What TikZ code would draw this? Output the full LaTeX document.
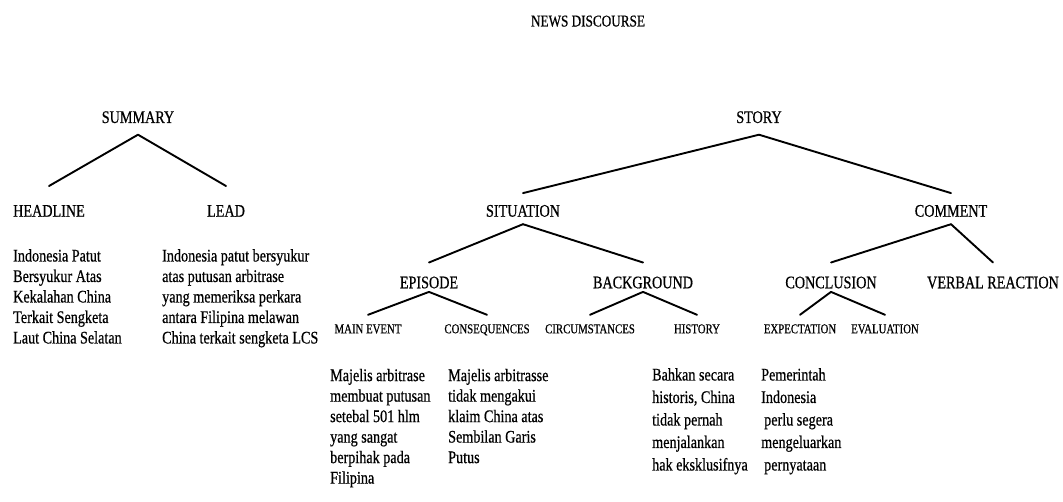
\documentclass[tikz,border=0pt]{standalone}
\usepackage{fontspec}
\setmainfont{Liberation Serif}[FakeStretch=0.8, FakeBold=0.6]

\begin{document}
\begin{tikzpicture}[x=1pt,y=-1pt]
\tikzset{edge/.style = {line width=1.9pt, line cap=round},
  lbl/.style = {anchor=base, inner sep=0pt, font=\fontsize{17.7}{20.5}\selectfont},
  rootlbl/.style = {lbl, text height=11.5pt, text depth=11.5pt},
  leaflbl/.style = {lbl, text height=30.5pt, text depth=0pt},
  midlbl/.style = {lbl, text height=23.4pt, text depth=7.3pt},
  lowlbl/.style = {lbl, text height=25.6pt, text depth=3.4pt},
  minorlbl/.style = {lbl, font=\fontsize{13.5}{16}\selectfont, text height=18.3pt, text depth=0pt},
  body/.style = {anchor=north west, align=left, inner sep=0pt, font=\fontsize{17.7}{20.5}\selectfont},
  widebody/.style = {body, font=\fontsize{17.7}{22.5}\selectfont}}
\useasboundingbox (0,0) rectangle (1063,502);
            % vertices
	\node[anchor=base, inner sep=0pt, font=\fontsize{16.5}{18}\selectfont] (news) at (588,26.5) {NEWS DISCOURSE};
	\node[rootlbl] (summary) at (138,123) {SUMMARY};
	\node[rootlbl] (story) at (759,123) {STORY};
	\node[leaflbl] (headline) at (49,216.7) {HEADLINE};
	\node[leaflbl] (lead) at (226,216.7) {LEAD};
	\node[midlbl] (situation) at (523,216.7) {SITUATION};
	\node[midlbl] (comment) at (951,216.7) {COMMENT};
	\node[lowlbl] (episode) at (429,288.3) {EPISODE};
	\node[lowlbl] (background) at (643,288.3) {BACKGROUND};
	\node[lowlbl] (conclusion) at (831,288.3) {CONCLUSION};
	\node[lowlbl] (verbal) at (993,288.3) {VERBAL REACTION};
	\node[minorlbl] (mainevent) at (368,333.3) {MAIN EVENT};
	\node[minorlbl] (consequences) at (487,333.3) {CONSEQUENCES};
	\node[minorlbl] (circumstances) at (590,333.3) {CIRCUMSTANCES};
	\node[minorlbl] (history) at (697,333.3) {HISTORY};
	\node[minorlbl] (expectation) at (800,333.3) {EXPECTATION};
	\node[minorlbl] (evaluation) at (885,333.3) {EVALUATION};
            % texts
	\node[body] (headlinetext) at (13,249) {Indonesia Patut\\Bersyukur Atas\\Kekalahan China\\Terkait Sengketa\\Laut China Selatan};
	\node[body] (leadtext) at (162,249) {Indonesia patut bersyukur\\atas putusan arbitrase\\yang memeriksa perkara\\antara Filipina melawan\\China terkait sengketa LCS};
	\node[body] (maineventtext) at (330,368.6) {Majelis arbitrase\\membuat putusan\\setebal 501 hlm\\yang sangat\\berpihak pada\\Filipina};
	\node[body] (consequencestext) at (448,368.6) {Majelis arbitrasse\\tidak mengakui\\klaim China atas\\Sembilan Garis\\Putus};
	\node[widebody] (historytext) at (652,368) {Bahkan secara\\historis, China\\tidak pernah\\menjalankan\\hak eksklusifnya};
	\node[widebody] (expectationtext) at (761,368) {Pemerintah\\Indonesia\\\hspace{3pt}perlu segera\\mengeluarkan\\\hspace{3pt}pernyataan};
            %edges
	\draw[edge] (summary.south) to (headline.north);
	\draw[edge] (summary.south) to (lead.north);
	\draw[edge] (story.south) to (situation.north);
	\draw[edge] (story.south) to (comment.north);
	\draw[edge] (situation.south) to (episode.north);
	\draw[edge] (situation.south) to (background.north);
	\draw[edge] (comment.south) to (conclusion.north);
	\draw[edge] (comment.south) to (verbal.north);
	\draw[edge] (episode.south) to (mainevent.north);
	\draw[edge] (episode.south) to (consequences.north);
	\draw[edge] (background.south) to (circumstances.north);
	\draw[edge] (background.south) to (history.north);
	\draw[edge] (conclusion.south) to (expectation.north);
	\draw[edge] (conclusion.south) to (evaluation.north);
\end{tikzpicture}
\end{document}
